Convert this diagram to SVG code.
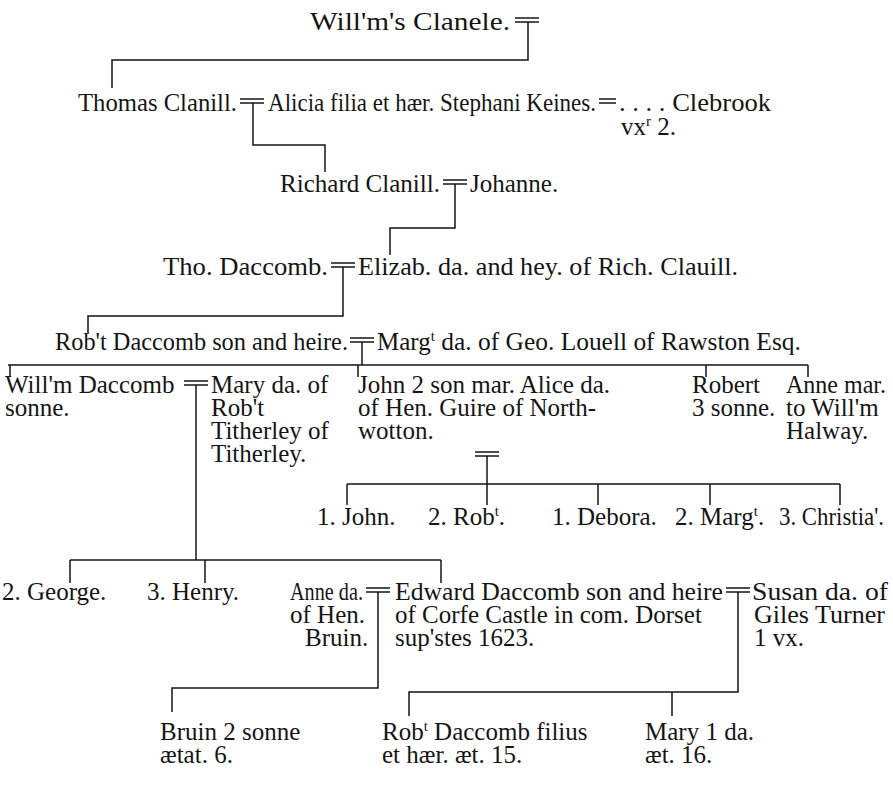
<svg xmlns="http://www.w3.org/2000/svg" width="893" height="798" viewBox="0 0 893 798">
<style>
text { font-family: "Liberation Serif", "Times New Roman", serif; font-size: 25px; fill: #151515; }
.sup { font-size: 15px; }
.c path, .c line { stroke: #151515; stroke-width: 1.5; fill: none; }
</style>
<defs>
<g id="m" stroke="#151515" stroke-width="1.5"><line x1="0" y1="0" x2="24" y2="0"/><line x1="0" y1="4" x2="24" y2="4"/></g>
<g id="eq" stroke="#151515" stroke-width="1.5"><line x1="0" y1="0" x2="17" y2="0"/><line x1="0" y1="4" x2="17" y2="4"/></g>
</defs>
<rect width="893" height="798" fill="#ffffff"/>

<g id="connectors" class="c">
  <use href="#m" x="515" y="18"/>
  <path d="M528 22 V60 H112 V88"/>
  <use href="#m" x="240" y="99"/>
  <path d="M253 103 V145 H325 V172"/>
  <use href="#eq" x="599" y="99"/>
  <use href="#m" x="443" y="180"/>
  <path d="M455 184 V228 H390 V255"/>
  <use href="#m" x="331" y="263"/>
  <path d="M343 267 V316 H88 V334"/>
  <use href="#m" x="350" y="338"/>
  <path d="M362 342 V365"/>
  <path d="M8 365 H808 M10 365 V377 M358 365 V377 M706 365 V377 M808 365 V377"/>
  <use href="#m" x="184" y="381"/>
  <path d="M196 385 V560"/>
  <path d="M70 560 H441 M70 560 V583 M205 560 V583 M441 560 V583"/>
  <use href="#m" x="475" y="452"/>
  <path d="M487 456 V484"/>
  <path d="M347 484 H840 M347 484 V505 M487 484 V505 M598 484 V505 M710 484 V505 M840 484 V505"/>
  <use href="#m" x="366" y="588"/>
  <path d="M378 592 V688 H172 V712"/>
  <use href="#m" x="726" y="588"/>
  <path d="M738 592 V692 H409 V716 M672 692 V716"/>
</g>

<g id="n-willm-clanele"><text x="310" y="30" textLength="200" lengthAdjust="spacingAndGlyphs">Will'm's Clanele.</text></g>
<g id="n-thomas"><text x="78" y="111" textLength="159" lengthAdjust="spacingAndGlyphs">Thomas Clanill.</text></g>
<g id="n-alicia"><text x="268" y="111" textLength="328" lengthAdjust="spacingAndGlyphs">Alicia filia et hær. Stephani Keines.</text></g>
<g id="n-clebrook"><text x="619" y="111" textLength="152" lengthAdjust="spacingAndGlyphs">. . . . Clebrook</text><text x="621" y="135">vx<tspan class="sup" dy="-9">r</tspan><tspan dy="9"> 2.</tspan></text></g>
<g id="n-richard"><text x="280" y="192" textLength="160" lengthAdjust="spacingAndGlyphs">Richard Clanill.</text></g>
<g id="n-johanne"><text x="470" y="192">Johanne.</text></g>
<g id="n-tho"><text x="163" y="275" textLength="165" lengthAdjust="spacingAndGlyphs">Tho. Daccomb.</text></g>
<g id="n-elizab"><text x="358" y="275" textLength="380" lengthAdjust="spacingAndGlyphs">Elizab. da. and hey. of Rich. Clauill.</text></g>
<g id="n-robt"><text x="55" y="350" textLength="293" lengthAdjust="spacingAndGlyphs">Rob't Daccomb son and heire.</text></g>
<g id="n-margt"><text x="377" y="350">Marg<tspan class="sup" dy="-9">t</tspan><tspan dy="9" textLength="366" lengthAdjust="spacingAndGlyphs"> da. of Geo. Louell of Rawston Esq.</tspan></text></g>

<g id="n-willm-daccomb"><text x="5" y="393">Will'm Daccomb<tspan x="5" y="416">sonne.</tspan></text></g>
<g id="n-mary"><text x="211" y="393">Mary da. of<tspan x="211" y="416">Rob't</tspan><tspan x="211" y="439">Titherley of</tspan><tspan x="211" y="462">Titherley.</tspan></text></g>
<g id="n-john"><text x="358" y="393">John 2 son mar. Alice da.<tspan x="358" y="416">of Hen. Guire of North-</tspan><tspan x="358" y="439">wotton.</tspan></text></g>
<g id="n-robert"><text x="692" y="393">Robert<tspan x="692" y="416">3 sonne.</tspan></text></g>
<g id="n-anne-mar"><text x="786" y="393" textLength="100" lengthAdjust="spacingAndGlyphs">Anne mar.</text><text x="786" y="416">to Will'm<tspan x="786" y="439">Halway.</tspan></text></g>

<g id="n-k-john"><text x="317" y="525">1. John.</text></g>
<g id="n-k-robt"><text x="428" y="525">2. Rob<tspan class="sup" dy="-9">t</tspan><tspan dy="9">.</tspan></text></g>
<g id="n-k-debora"><text x="552" y="525">1. Debora.</text></g>
<g id="n-k-margt"><text x="675" y="525">2. Marg<tspan class="sup" dy="-9">t</tspan><tspan dy="9">.</tspan></text></g>
<g id="n-k-christia"><text x="779" y="525" textLength="105" lengthAdjust="spacingAndGlyphs">3. Christia'.</text></g>

<g id="n-george"><text x="2" y="600">2. George.</text></g>
<g id="n-henry"><text x="147" y="600">3. Henry.</text></g>
<g id="n-anne-da"><text x="290" y="600" textLength="73" lengthAdjust="spacingAndGlyphs">Anne da.</text><text x="290" y="623">of Hen.<tspan x="305" y="646">Bruin.</tspan></text></g>
<g id="n-edward"><text x="395" y="600" textLength="328" lengthAdjust="spacingAndGlyphs">Edward Daccomb son and heire</text><text x="395" y="623">of Corfe Castle in com. Dorset<tspan x="395" y="646">sup'stes 1623.</tspan></text></g>
<g id="n-susan"><text x="752" y="600" textLength="136" lengthAdjust="spacingAndGlyphs">Susan da. of</text><text x="754" y="623" textLength="131" lengthAdjust="spacingAndGlyphs">Giles Turner</text><text x="754" y="646">1 vx.</text></g>

<g id="n-bruin"><text x="160" y="740">Bruin 2 sonne<tspan x="160" y="763">ætat. 6.</tspan></text></g>
<g id="n-robt-filius"><text x="382" y="740">Rob<tspan class="sup" dy="-9">t</tspan><tspan dy="9"> Daccomb filius</tspan><tspan x="382" y="763">et hær. æt. 15.</tspan></text></g>
<g id="n-mary-da"><text x="645" y="740">Mary 1 da.<tspan x="645" y="763">æt. 16.</tspan></text></g>
</svg>
